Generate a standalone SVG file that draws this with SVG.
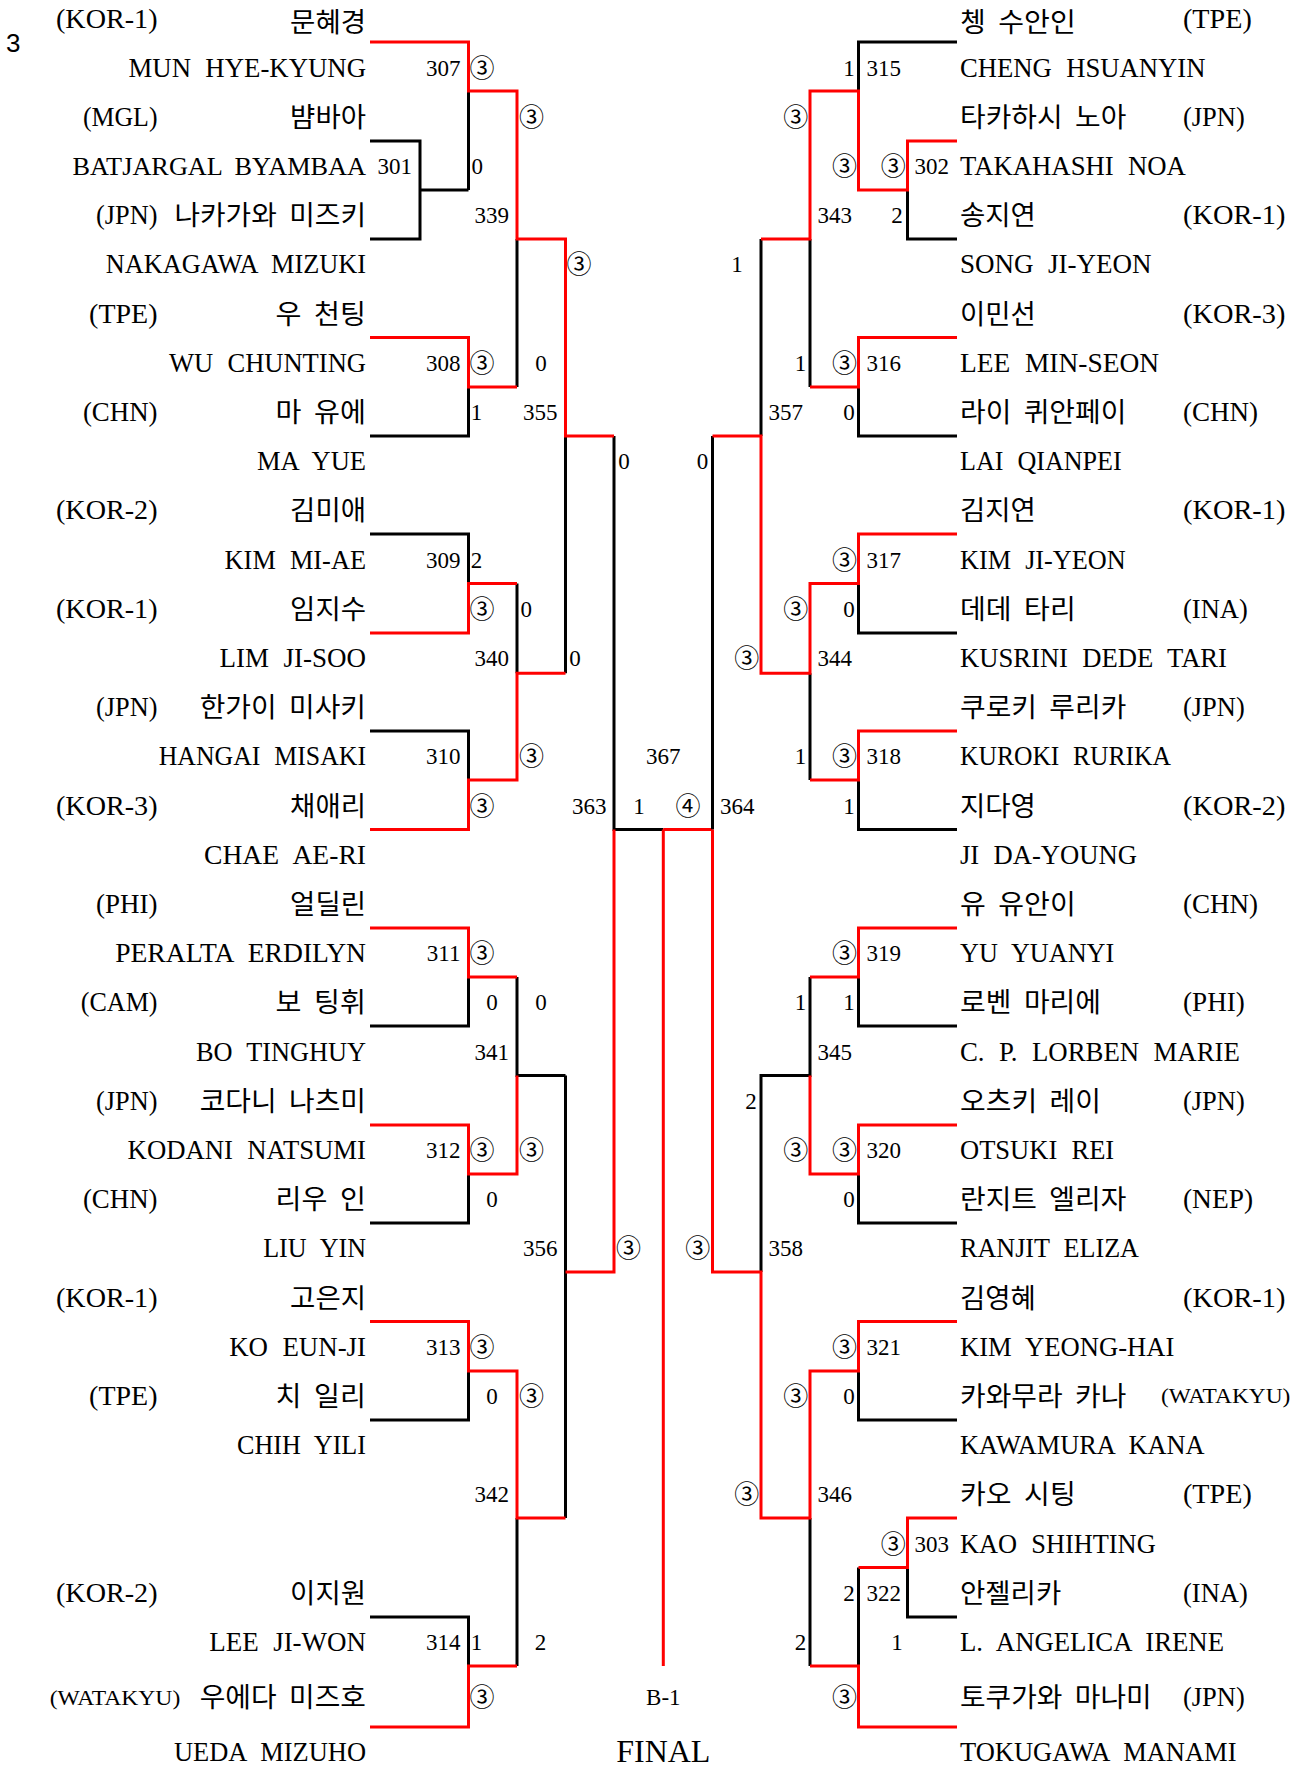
<svg xmlns="http://www.w3.org/2000/svg" width="1298" height="1766" viewBox="0 0 1298 1766">
<style>
text{fill:#000}
.en,.cc{font-family:"Liberation Serif","Noto Sans CJK KR",serif;font-size:28px}
.en{word-spacing:8px}
.ko{font-family:"Noto Sans CJK KR",sans-serif;font-size:27px;word-spacing:6px}
.cw{font-family:"Liberation Serif",serif;font-size:22px}
.sc{font-family:"Liberation Serif",serif;font-size:23px;text-anchor:middle}
.ci{font-family:"Noto Sans CJK KR",sans-serif;font-size:25px;text-anchor:middle}
.mn{font-family:"Liberation Serif",serif;font-size:23px}
.e{text-anchor:end}
.m{text-anchor:middle}
.lr{fill:none;stroke:#ff0000;stroke-width:3;stroke-linejoin:miter}
.lb{fill:none;stroke:#000;stroke-width:3;stroke-linejoin:miter}
</style>
<rect width="1298" height="1766" fill="#fff"/>
<text x="6" y="51.7" style="font-family:'Liberation Sans',sans-serif;font-size:26px">3</text>

<g id="connectors">
<path class="lb" d="M370 141H420V239H370M420 190H468.5M468.5 91V190M517 239V387M370 436H468.5V387M565.5 436V673.3M614 436V829.5H663.3M370 534H468.5V583.5M517 583.5V673.3M370 731H468.5V780M370 1026H468.5V977M517 977V1075.5H565.5M565.5 1075.5V1518M370 1223H468.5V1174M370 1420H468.5V1371M517 1518V1666M370 1617H468.5V1666"/>
<path class="lr" d="M370 42H468.5V91H517V239H565.5V436H614"/>
<path class="lr" d="M370 337.5H468.5V387H517"/>
<path class="lr" d="M370 633H468.5V583.5H517"/>
<path class="lr" d="M370 829.5H468.5V780H517V673.3H565.5"/>
<path class="lr" d="M370 928H468.5V977H517"/>
<path class="lr" d="M370 1125H468.5V1174H517V1075.5"/>
<path class="lr" d="M370 1321.5H468.5V1371H517V1518H565.5"/>
<path class="lr" d="M565.5 1272H614V829.5"/>
<path class="lr" d="M370 1727H468.5V1666H517"/>
<path class="lr" d="M663.3 829.5V1666M663.3 829.5H712.5"/>
<path class="lb" d="M957 42H858.5V91M957 239H907.5V190M810 239V387M957 436H858.5V387M761 239V436M712.5 436V829.5M957 633H858.5V583.5M810 673.3V780M957 829.5H858.5V780M957 1026H858.5V977M810 977V1075.5H761V1272M957 1223H858.5V1174M957 1420H858.5V1371M810 1518V1666M957 1617H907.5V1567.5M858.5 1567.5V1666"/>
<path class="lr" d="M957 141H907.5V190H858.5V91H810V239H761"/>
<path class="lr" d="M957 337.5H858.5V387H810"/>
<path class="lr" d="M957 534H858.5V583.5H810V673.3H761V436H712.5"/>
<path class="lr" d="M957 731H858.5V780H810"/>
<path class="lr" d="M957 928H858.5V977H810"/>
<path class="lr" d="M957 1125H858.5V1174H810V1075.5"/>
<path class="lr" d="M957 1321.5H858.5V1371H810V1518H761V1272H712.5V829.5"/>
<path class="lr" d="M957 1518H907.5V1567.5H858.5"/>
<path class="lr" d="M957 1727H858.5V1666H810"/>
</g>

<g id="left-players">
<g id="pL1"><text class="cc" x="56" y="28.3" textLength="101.5" lengthAdjust="spacingAndGlyphs">(KOR-1)</text><text class="ko" x="290.1" y="31.5" textLength="75.9" lengthAdjust="spacingAndGlyphs">문혜경</text><text class="en" x="128.5" y="76.5" textLength="237.5" lengthAdjust="spacingAndGlyphs">MUN HYE-KYUNG</text></g>
<g id="pL2"><text class="cc" x="82.9" y="125.7" textLength="74.6" lengthAdjust="spacingAndGlyphs">(MGL)</text><text class="ko" x="290.1" y="126.7" textLength="75.9" lengthAdjust="spacingAndGlyphs">뱜바아</text><text class="en" x="72.5" y="174.9" textLength="293.5" lengthAdjust="spacingAndGlyphs" style="font-size:26px;word-spacing:6px">BATJARGAL BYAMBAA</text></g>
<g id="pL3"><text class="cc" x="96.1" y="224.1" textLength="61.4" lengthAdjust="spacingAndGlyphs">(JPN)</text><text class="ko" x="174.4" y="225.1" textLength="191.6" lengthAdjust="spacingAndGlyphs">나카가와 미즈키</text><text class="en" x="105.7" y="273.3" textLength="260.3" lengthAdjust="spacingAndGlyphs">NAKAGAWA MIZUKI</text></g>
<g id="pL4"><text class="cc" x="89.1" y="322.5" textLength="68.4" lengthAdjust="spacingAndGlyphs">(TPE)</text><text class="ko" x="275.6" y="323.5" textLength="90.4" lengthAdjust="spacingAndGlyphs">우 천팅</text><text class="en" x="169" y="371.7" textLength="197" lengthAdjust="spacingAndGlyphs">WU CHUNTING</text></g>
<g id="pL5"><text class="cc" x="82.9" y="420.9" textLength="74.6" lengthAdjust="spacingAndGlyphs">(CHN)</text><text class="ko" x="275.6" y="421.9" textLength="90.4" lengthAdjust="spacingAndGlyphs">마 유에</text><text class="en" x="257" y="470.1" textLength="109" lengthAdjust="spacingAndGlyphs">MA YUE</text></g>
<g id="pL6"><text class="cc" x="56" y="519.3" textLength="101.5" lengthAdjust="spacingAndGlyphs">(KOR-2)</text><text class="ko" x="290.1" y="520.3" textLength="75.9" lengthAdjust="spacingAndGlyphs">김미애</text><text class="en" x="224.6" y="568.5" textLength="141.4" lengthAdjust="spacingAndGlyphs">KIM MI-AE</text></g>
<g id="pL7"><text class="cc" x="56" y="617.7" textLength="101.5" lengthAdjust="spacingAndGlyphs">(KOR-1)</text><text class="ko" x="290.1" y="618.7" textLength="75.9" lengthAdjust="spacingAndGlyphs">임지수</text><text class="en" x="219.6" y="666.9" textLength="146.4" lengthAdjust="spacingAndGlyphs">LIM JI-SOO</text></g>
<g id="pL8"><text class="cc" x="96.1" y="716.1" textLength="61.4" lengthAdjust="spacingAndGlyphs">(JPN)</text><text class="ko" x="199.7" y="717.1" textLength="166.3" lengthAdjust="spacingAndGlyphs">한가이 미사키</text><text class="en" x="158.7" y="765.3" textLength="207.3" lengthAdjust="spacingAndGlyphs">HANGAI MISAKI</text></g>
<g id="pL9"><text class="cc" x="56" y="814.5" textLength="101.5" lengthAdjust="spacingAndGlyphs">(KOR-3)</text><text class="ko" x="290.1" y="815.5" textLength="75.9" lengthAdjust="spacingAndGlyphs">채애리</text><text class="en" x="204" y="863.7" textLength="162" lengthAdjust="spacingAndGlyphs">CHAE AE-RI</text></g>
<g id="pL10"><text class="cc" x="96.1" y="912.9" textLength="61.4" lengthAdjust="spacingAndGlyphs">(PHI)</text><text class="ko" x="290.1" y="913.9" textLength="75.9" lengthAdjust="spacingAndGlyphs">얼딜린</text><text class="en" x="115.2" y="962.1" textLength="250.8" lengthAdjust="spacingAndGlyphs">PERALTA ERDILYN</text></g>
<g id="pL11"><text class="cc" x="80.8" y="1011.3" textLength="76.7" lengthAdjust="spacingAndGlyphs">(CAM)</text><text class="ko" x="275.6" y="1012.3" textLength="90.4" lengthAdjust="spacingAndGlyphs">보 팅휘</text><text class="en" x="196" y="1060.5" textLength="170" lengthAdjust="spacingAndGlyphs">BO TINGHUY</text></g>
<g id="pL12"><text class="cc" x="96.1" y="1109.7" textLength="61.4" lengthAdjust="spacingAndGlyphs">(JPN)</text><text class="ko" x="199.7" y="1110.7" textLength="166.3" lengthAdjust="spacingAndGlyphs">코다니 나츠미</text><text class="en" x="127.6" y="1158.9" textLength="238.4" lengthAdjust="spacingAndGlyphs">KODANI NATSUMI</text></g>
<g id="pL13"><text class="cc" x="82.9" y="1208.1" textLength="74.6" lengthAdjust="spacingAndGlyphs">(CHN)</text><text class="ko" x="275.6" y="1209.1" textLength="90.4" lengthAdjust="spacingAndGlyphs">리우 인</text><text class="en" x="263.2" y="1257.3" textLength="102.8" lengthAdjust="spacingAndGlyphs">LIU YIN</text></g>
<g id="pL14"><text class="cc" x="56" y="1306.5" textLength="101.5" lengthAdjust="spacingAndGlyphs">(KOR-1)</text><text class="ko" x="290.1" y="1307.5" textLength="75.9" lengthAdjust="spacingAndGlyphs">고은지</text><text class="en" x="229.2" y="1355.7" textLength="136.8" lengthAdjust="spacingAndGlyphs">KO EUN-JI</text></g>
<g id="pL15"><text class="cc" x="89.1" y="1404.9" textLength="68.4" lengthAdjust="spacingAndGlyphs">(TPE)</text><text class="ko" x="275.6" y="1405.9" textLength="90.4" lengthAdjust="spacingAndGlyphs">치 일리</text><text class="en" x="237" y="1454.1" textLength="129" lengthAdjust="spacingAndGlyphs">CHIH YILI</text></g>
<g id="pL16"><text class="cc" x="56" y="1601.7" textLength="101.5" lengthAdjust="spacingAndGlyphs">(KOR-2)</text><text class="ko" x="290.1" y="1602.7" textLength="75.9" lengthAdjust="spacingAndGlyphs">이지원</text><text class="en" x="209.3" y="1650.9" textLength="156.7" lengthAdjust="spacingAndGlyphs">LEE JI-WON</text></g>
<g id="pL17"><text class="cw" x="49.7" y="1704.5" textLength="130.6" lengthAdjust="spacingAndGlyphs">(WATAKYU)</text><text class="ko" x="199.7" y="1707" textLength="166.3" lengthAdjust="spacingAndGlyphs">우에다 미즈호</text><text class="en" x="174" y="1761" textLength="192" lengthAdjust="spacingAndGlyphs">UEDA MIZUHO</text></g>
</g>

<g id="right-players">
<g id="pR1"><text class="ko" x="960" y="31.5" textLength="115.7" lengthAdjust="spacingAndGlyphs">쳉 수안인</text><text class="cc" x="1183" y="28.3" textLength="68.8" lengthAdjust="spacingAndGlyphs">(TPE)</text><text class="en" x="960" y="76.5" textLength="245.4" lengthAdjust="spacingAndGlyphs">CHENG HSUANYIN</text></g>
<g id="pR2"><text class="ko" x="960" y="126.7" textLength="166.3" lengthAdjust="spacingAndGlyphs">타카하시 노아</text><text class="cc" x="1183" y="125.7" textLength="61.8" lengthAdjust="spacingAndGlyphs">(JPN)</text><text class="en" x="960" y="174.9" textLength="225.9" lengthAdjust="spacingAndGlyphs">TAKAHASHI NOA</text></g>
<g id="pR3"><text class="ko" x="960" y="225.1" textLength="75.9" lengthAdjust="spacingAndGlyphs">송지연</text><text class="cc" x="1183" y="224.1" textLength="102.4" lengthAdjust="spacingAndGlyphs">(KOR-1)</text><text class="en" x="960" y="273.3" textLength="191.5" lengthAdjust="spacingAndGlyphs">SONG JI-YEON</text></g>
<g id="pR4"><text class="ko" x="960" y="323.5" textLength="75.9" lengthAdjust="spacingAndGlyphs">이민선</text><text class="cc" x="1183" y="322.5" textLength="102.4" lengthAdjust="spacingAndGlyphs">(KOR-3)</text><text class="en" x="960" y="371.7" textLength="199" lengthAdjust="spacingAndGlyphs">LEE MIN-SEON</text></g>
<g id="pR5"><text class="ko" x="960" y="421.9" textLength="166.3" lengthAdjust="spacingAndGlyphs">라이 퀴안페이</text><text class="cc" x="1183" y="420.9" textLength="75" lengthAdjust="spacingAndGlyphs">(CHN)</text><text class="en" x="960" y="470.1" textLength="161.7" lengthAdjust="spacingAndGlyphs">LAI QIANPEI</text></g>
<g id="pR6"><text class="ko" x="960" y="520.3" textLength="75.9" lengthAdjust="spacingAndGlyphs">김지연</text><text class="cc" x="1183" y="519.3" textLength="102.4" lengthAdjust="spacingAndGlyphs">(KOR-1)</text><text class="en" x="960" y="568.5" textLength="165.8" lengthAdjust="spacingAndGlyphs">KIM JI-YEON</text></g>
<g id="pR7"><text class="ko" x="960" y="618.7" textLength="115.7" lengthAdjust="spacingAndGlyphs">데데 타리</text><text class="cc" x="1183" y="617.7" textLength="64.7" lengthAdjust="spacingAndGlyphs">(INA)</text><text class="en" x="960" y="666.9" textLength="267" lengthAdjust="spacingAndGlyphs">KUSRINI DEDE TARI</text></g>
<g id="pR8"><text class="ko" x="960" y="717.1" textLength="166.3" lengthAdjust="spacingAndGlyphs">쿠로키 루리카</text><text class="cc" x="1183" y="716.1" textLength="61.8" lengthAdjust="spacingAndGlyphs">(JPN)</text><text class="en" x="960" y="765.3" textLength="211" lengthAdjust="spacingAndGlyphs">KUROKI RURIKA</text></g>
<g id="pR9"><text class="ko" x="960" y="815.5" textLength="75.9" lengthAdjust="spacingAndGlyphs">지다영</text><text class="cc" x="1183" y="814.5" textLength="102.4" lengthAdjust="spacingAndGlyphs">(KOR-2)</text><text class="en" x="960" y="863.7" textLength="177" lengthAdjust="spacingAndGlyphs">JI DA-YOUNG</text></g>
<g id="pR10"><text class="ko" x="960" y="913.9" textLength="115.7" lengthAdjust="spacingAndGlyphs">유 유안이</text><text class="cc" x="1183" y="912.9" textLength="75" lengthAdjust="spacingAndGlyphs">(CHN)</text><text class="en" x="960" y="962.1" textLength="154.2" lengthAdjust="spacingAndGlyphs">YU YUANYI</text></g>
<g id="pR11"><text class="ko" x="960" y="1012.3" textLength="141" lengthAdjust="spacingAndGlyphs">로벤 마리에</text><text class="cc" x="1183" y="1011.3" textLength="61.8" lengthAdjust="spacingAndGlyphs">(PHI)</text><text class="en" x="960" y="1060.5" textLength="279.8" lengthAdjust="spacingAndGlyphs">C. P. LORBEN MARIE</text></g>
<g id="pR12"><text class="ko" x="960" y="1110.7" textLength="141" lengthAdjust="spacingAndGlyphs">오츠키 레이</text><text class="cc" x="1183" y="1109.7" textLength="61.8" lengthAdjust="spacingAndGlyphs">(JPN)</text><text class="en" x="960" y="1158.9" textLength="154.2" lengthAdjust="spacingAndGlyphs">OTSUKI REI</text></g>
<g id="pR13"><text class="ko" x="960" y="1209.1" textLength="166.3" lengthAdjust="spacingAndGlyphs">란지트 엘리자</text><text class="cc" x="1183" y="1208.1" textLength="70" lengthAdjust="spacingAndGlyphs">(NEP)</text><text class="en" x="960" y="1257.3" textLength="179" lengthAdjust="spacingAndGlyphs">RANJIT ELIZA</text></g>
<g id="pR14"><text class="ko" x="960" y="1307.5" textLength="75.9" lengthAdjust="spacingAndGlyphs">김영혜</text><text class="cc" x="1183" y="1306.5" textLength="102.4" lengthAdjust="spacingAndGlyphs">(KOR-1)</text><text class="en" x="960" y="1355.7" textLength="214.3" lengthAdjust="spacingAndGlyphs">KIM YEONG-HAI</text></g>
<g id="pR15"><text class="ko" x="960" y="1405.9" textLength="166.3" lengthAdjust="spacingAndGlyphs">카와무라 카나</text><text class="cw" x="1161" y="1403.4" textLength="129.4" lengthAdjust="spacingAndGlyphs">(WATAKYU)</text><text class="en" x="960" y="1454.1" textLength="244.6" lengthAdjust="spacingAndGlyphs">KAWAMURA KANA</text></g>
<g id="pR16"><text class="ko" x="960" y="1504.3" textLength="115.7" lengthAdjust="spacingAndGlyphs">카오 시팅</text><text class="cc" x="1183" y="1503.3" textLength="68.8" lengthAdjust="spacingAndGlyphs">(TPE)</text><text class="en" x="960" y="1552.5" textLength="195.7" lengthAdjust="spacingAndGlyphs">KAO SHIHTING</text></g>
<g id="pR17"><text class="ko" x="960" y="1602.7" textLength="101.2" lengthAdjust="spacingAndGlyphs">안젤리카</text><text class="cc" x="1183" y="1601.7" textLength="64.7" lengthAdjust="spacingAndGlyphs">(INA)</text><text class="en" x="960" y="1650.9" textLength="264" lengthAdjust="spacingAndGlyphs">L. ANGELICA IRENE</text></g>
<g id="pR18"><text class="ko" x="960" y="1707" textLength="191.6" lengthAdjust="spacingAndGlyphs">토쿠가와 마나미</text><text class="cc" x="1183" y="1706" textLength="61.8" lengthAdjust="spacingAndGlyphs">(JPN)</text><text class="en" x="960" y="1761" textLength="276.5" lengthAdjust="spacingAndGlyphs">TOKUGAWA MANAMI</text></g>
</g>

<g id="left-matches">
<g id="m301"><text class="mn e" x="412" y="173.9">301</text></g>
<g id="m307"><text class="mn e" x="460.5" y="75.5">307</text><text class="ci" x="482" y="76.5">③</text><text class="sc" x="477.2" y="173.9">0</text></g>
<g id="m308"><text class="mn e" x="460.5" y="370.7">308</text><text class="ci" x="482" y="371.7">③</text><text class="sc" x="476.6" y="419.9">1</text></g>
<g id="m309"><text class="mn e" x="460.5" y="567.5">309</text><text class="sc" x="476.6" y="567.5">2</text><text class="ci" x="482" y="617.7">③</text></g>
<g id="m310"><text class="mn e" x="460.5" y="764.3">310</text><text class="ci" x="482" y="814.5">③</text></g>
<g id="m311"><text class="mn e" x="460.5" y="961.1">311</text><text class="ci" x="482" y="962.1">③</text><text class="sc" x="492" y="1010.3">0</text></g>
<g id="m312"><text class="mn e" x="460.5" y="1157.9">312</text><text class="ci" x="482" y="1158.9">③</text><text class="sc" x="492" y="1207.1">0</text></g>
<g id="m313"><text class="mn e" x="460.5" y="1354.7">313</text><text class="ci" x="482" y="1355.7">③</text><text class="sc" x="492" y="1403.9">0</text></g>
<g id="m314"><text class="mn e" x="460.5" y="1649.9">314</text><text class="sc" x="476.6" y="1649.9">1</text><text class="ci" x="482" y="1706">③</text></g>
<g id="m339"><text class="mn e" x="509" y="223.1">339</text><text class="ci" x="531.4" y="125.7">③</text><text class="sc" x="541" y="370.7">0</text></g>
<g id="m340"><text class="mn e" x="509" y="665.9">340</text><text class="sc" x="526.3" y="616.7">0</text><text class="ci" x="531.4" y="765.3">③</text></g>
<g id="m341"><text class="mn e" x="509" y="1059.5">341</text><text class="sc" x="541" y="1010.3">0</text><text class="ci" x="531.4" y="1158.9">③</text></g>
<g id="m342"><text class="mn e" x="509" y="1502.3">342</text><text class="ci" x="531.4" y="1404.9">③</text><text class="sc" x="540.4" y="1649.9">2</text></g>
<g id="m355"><text class="mn e" x="557.5" y="419.9">355</text><text class="ci" x="579" y="273.3">③</text><text class="sc" x="575" y="665.9">0</text></g>
<g id="m356"><text class="mn e" x="557.5" y="1256.3">356</text></g>
<g id="m363"><text class="mn e" x="606.5" y="813.5">363</text><text class="sc" x="624" y="469.1">0</text><text class="ci" x="628.5" y="1257.3">③</text></g>
</g>

<g id="final">
<text class="mn m" x="663.3" y="764.3">367</text>
<text class="sc" x="639" y="813.5">1</text>
<text class="ci" x="688" y="814.5">④</text>
<text class="mn m" x="663.3" y="1705">B-1</text>
<text x="663.3" y="1762" style="font-family:'Liberation Serif',serif;font-size:32px;text-anchor:middle">FINAL</text>
</g>

<g id="right-matches">
<g id="m302"><text class="mn" x="914.5" y="173.9">302</text><text class="ci" x="893.3" y="174.9">③</text><text class="sc" x="897" y="223.1">2</text></g>
<g id="m303"><text class="mn" x="914.5" y="1551.5">303</text><text class="ci" x="893.3" y="1552.5">③</text><text class="sc" x="897" y="1649.9">1</text></g>
<g id="m315"><text class="mn" x="866.5" y="75.5">315</text><text class="sc" x="849" y="75.5">1</text><text class="ci" x="844.5" y="174.9">③</text></g>
<g id="m316"><text class="mn" x="866.5" y="370.7">316</text><text class="ci" x="844.5" y="371.7">③</text><text class="sc" x="849" y="419.9">0</text></g>
<g id="m317"><text class="mn" x="866.5" y="567.5">317</text><text class="ci" x="844.5" y="568.5">③</text><text class="sc" x="849" y="616.7">0</text></g>
<g id="m318"><text class="mn" x="866.5" y="764.3">318</text><text class="ci" x="844.5" y="765.3">③</text><text class="sc" x="849" y="813.5">1</text></g>
<g id="m319"><text class="mn" x="866.5" y="961.1">319</text><text class="ci" x="844.5" y="962.1">③</text><text class="sc" x="849" y="1010.3">1</text></g>
<g id="m320"><text class="mn" x="866.5" y="1157.9">320</text><text class="ci" x="844.5" y="1158.9">③</text><text class="sc" x="849" y="1207.1">0</text></g>
<g id="m321"><text class="mn" x="866.5" y="1354.7">321</text><text class="ci" x="844.5" y="1355.7">③</text><text class="sc" x="849" y="1403.9">0</text></g>
<g id="m322"><text class="mn" x="866.5" y="1600.7">322</text><text class="sc" x="849" y="1600.7">2</text><text class="ci" x="844.5" y="1706">③</text></g>
<g id="m343"><text class="mn" x="817.5" y="223.1">343</text><text class="ci" x="795.7" y="125.7">③</text><text class="sc" x="800.5" y="370.7">1</text></g>
<g id="m344"><text class="mn" x="817.5" y="665.9">344</text><text class="ci" x="795.7" y="617.7">③</text><text class="sc" x="800.5" y="764.3">1</text></g>
<g id="m345"><text class="mn" x="817.5" y="1059.5">345</text><text class="sc" x="800.5" y="1010.3">1</text><text class="ci" x="795.7" y="1158.9">③</text></g>
<g id="m346"><text class="mn" x="817.5" y="1502.3">346</text><text class="ci" x="795.7" y="1404.9">③</text><text class="sc" x="800.5" y="1649.9">2</text></g>
<g id="m357"><text class="mn" x="768.5" y="419.9">357</text><text class="sc" x="737" y="272.3">1</text><text class="ci" x="746.7" y="666.9">③</text></g>
<g id="m358"><text class="mn" x="768.5" y="1256.3">358</text><text class="sc" x="751" y="1108.7">2</text><text class="ci" x="746.7" y="1503.3">③</text></g>
<g id="m364"><text class="mn" x="720" y="813.5">364</text><text class="sc" x="702.5" y="469.1">0</text><text class="ci" x="697.8" y="1257.3">③</text></g>
</g>
</svg>
